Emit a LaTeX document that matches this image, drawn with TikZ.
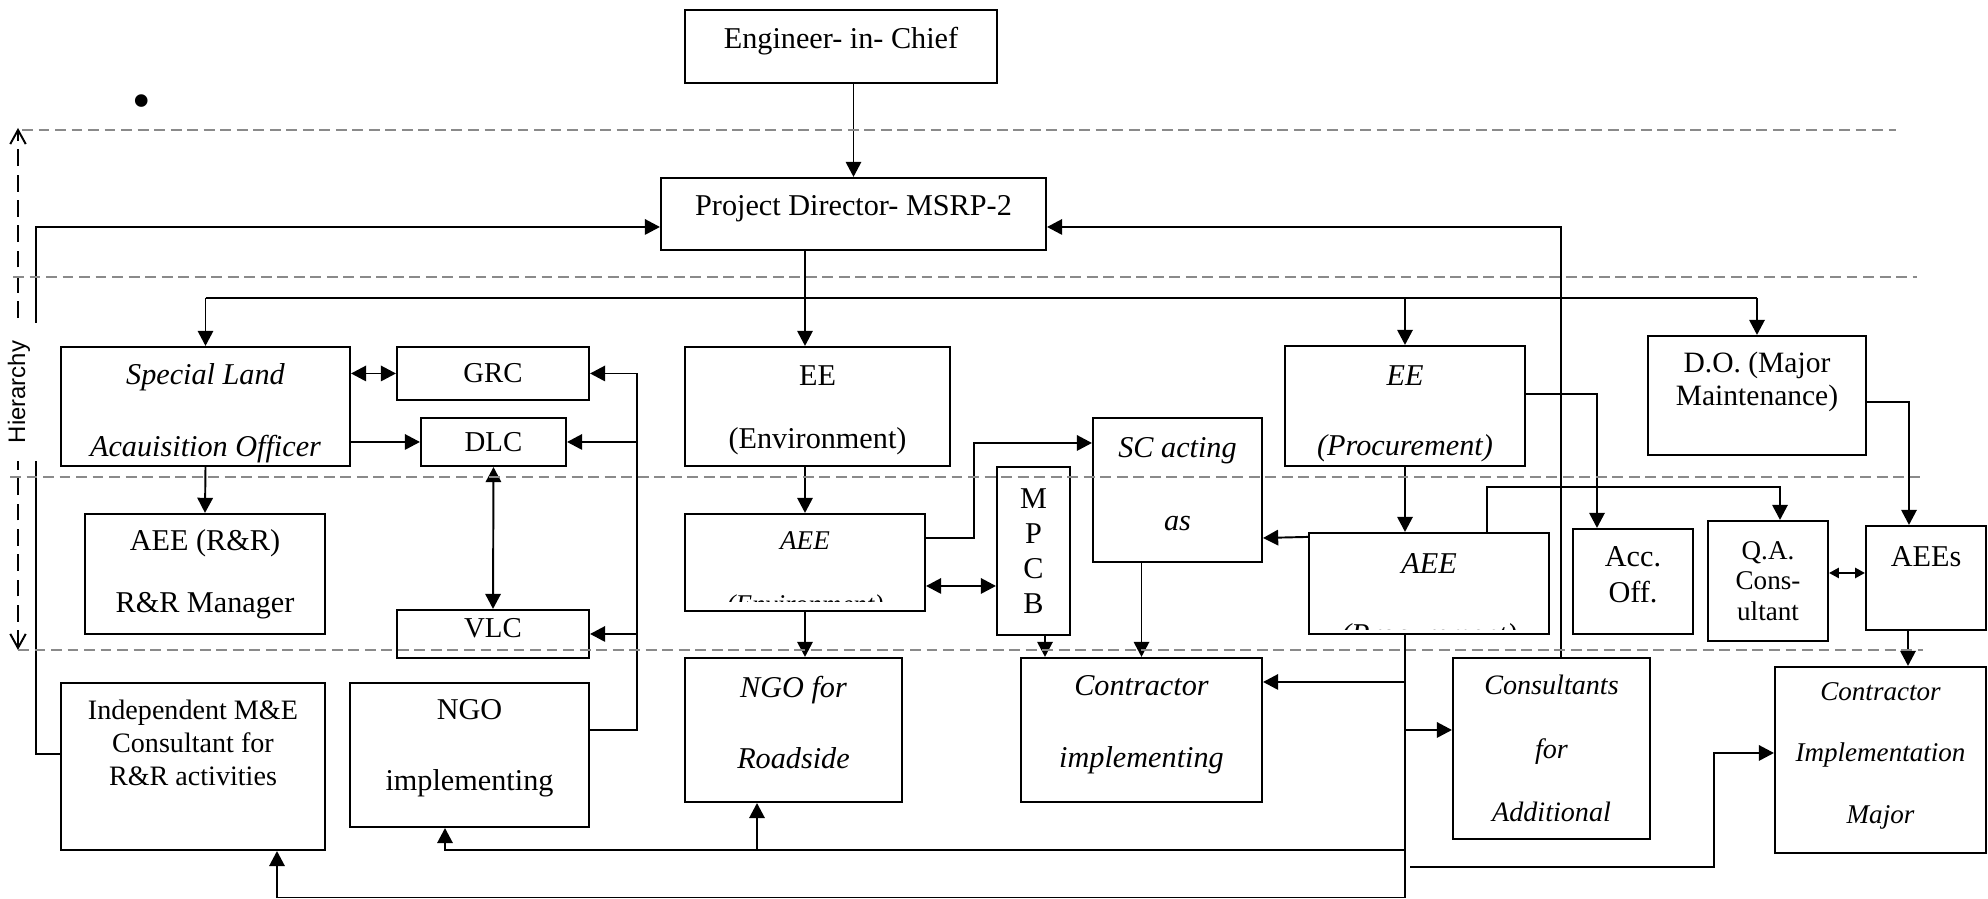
\documentclass[tikz,border=0pt]{standalone}
\usepackage{fontspec}
\setmainfont{Liberation Serif}
\newfontfamily\hierfont{Liberation Sans}
\usetikzlibrary{arrows.meta,positioning,calc}
\definecolor{LevelGray}{HTML}{8A8A8A}
\tikzset{
  box/.style={draw, line width=0.6pt, inner sep=0pt, align=center,
              font=\fontsize{8.6}{10}\selectfont},
  it/.style={font=\fontsize{8.6}{10}\selectfont\itshape},
  plain/.style={inner sep=0pt, align=center},
  arrow/.style={-{Triangle[length=4.3pt,width=4.4pt]}, line width=0.55pt},
  biarrow/.style={{Triangle[length=4.3pt,width=4.4pt]}-{Triangle[length=4.3pt,width=4.4pt]},
                  line width=0.55pt},
  smallbiarrow/.style={{Triangle[length=2.8pt,width=2.9pt]}-{Triangle[length=2.8pt,width=2.9pt]},
                  line width=0.55pt},
  level/.style={draw=LevelGray, line width=0.6pt, dash pattern=on 3.1pt off 1.6pt},
}

\begin{document}
\begin{tikzpicture}
  \tikzset{
    hier/.style={{Straight Barb[length=4pt,width=4.4pt]}-{Straight Barb[length=4pt,width=4.4pt]},
                 line width=0.55pt, dash pattern=on 4.8pt off 2.4pt},
    hierlabel/.style={fill=white, rotate=90, inner xsep=0.18cm, inner ysep=0.1cm,
                      font=\hierfont\fontsize{6.8}{8}\selectfont},
  }
  \useasboundingbox (0,0) rectangle (19.88,8.99);

  \node[plain, font=\fontsize{15}{15}\selectfont] (dot) at (1.42,7.92) {\textbullet};

  % top of the hierarchy
  \node[box, text depth=0.167cm, minimum width=3.12cm, minimum height=0.73cm] (eic) at (8.41,8.525)
        {Engineer- in- Chief};
  \node[box, text depth=0.167cm, minimum width=3.85cm, minimum height=0.72cm] (pd) at (8.535,6.85)
        {Project Director- MSRP-2};

  % second row
  \node[box, it, text height=1.06cm, minimum width=2.89cm, minimum height=1.19cm] (slao) at (2.055,4.925)
        {Special Land\\[10.5pt]Acauisition Officer};
  \node[box, font=\fontsize{8.2}{10}\selectfont, minimum width=1.92cm, minimum height=0.53cm]
        (grc) at (4.93,5.255) {GRC};
  \node[box, font=\fontsize{8.2}{10}\selectfont, minimum width=1.45cm, minimum height=0.48cm]
        (dlc) at (4.935,4.57) {DLC};
  \node[box, text height=0.91cm, minimum width=2.65cm, minimum height=1.19cm] (eeenv) at (8.175,4.925)
        {EE\\[7.9pt](Environment)};
  \node[box, it, text depth=0.12cm, minimum width=1.69cm, minimum height=1.44cm] (sc) at (11.775,4.09)
        {SC acting\\[10.5pt]as};
  \node[box, it, text height=1.06cm, minimum width=2.40cm, minimum height=1.20cm] (eeproc) at (14.05,4.93)
        {EE\\[9.9pt](Procurement)};
  \node[box, font=\fontsize{8.4}{9.4}\selectfont, text depth=0.335cm,
        minimum width=2.18cm, minimum height=1.19cm] (do) at (17.57,5.035)
        {D.O. (Major\\Maintenance)};

  % third row
  \node[box, minimum width=2.40cm, minimum height=1.20cm] (aeerr) at (2.05,3.25)
        {AEE (R\&R)\\[7.6pt]R\&R Manager};
  \node[box, font=\fontsize{8.2}{10}\selectfont, text depth=0.12cm, minimum width=1.92cm,
        minimum height=0.48cm] (vlc) at (4.93,2.65) {VLC};
  \node[box, minimum width=2.40cm, minimum height=0.97cm] (aeeenv) at (8.05,3.365) {};
  \begin{scope}
    \clip (aeeenv.north west) rectangle ($(aeeenv.south east)+(0,0.11)$);
    \node[plain, font=\fontsize{7.7}{10}\selectfont\itshape] (aeeenvtxt)
          at ($(aeeenv.center)+(0,-0.125)$) {AEE\\[8.2pt](Environment)};
  \end{scope}
  \node[box, minimum width=0.73cm, minimum height=1.68cm] (mpcb) at (10.335,3.48) {M\\P\\C\\B};
  \node[box, minimum width=2.40cm, minimum height=1.01cm] (aeeproc) at (14.29,3.155) {};
  \begin{scope}
    \clip (aeeproc.north west) rectangle ($(aeeproc.south east)+(0,0.06)$);
    \node[plain, it] (aeeproctxt) at ($(aeeproc.center)+(0,-0.185)$) {AEE\\[10.2pt](Procurement)};
  \end{scope}
  \node[box, text depth=0.14cm, minimum width=1.20cm, minimum height=1.05cm] (acc) at (16.33,3.175)
        {Acc.\\Off.};
  \node[box, font=\fontsize{7.7}{8.7}\selectfont, minimum width=1.20cm, minimum height=1.20cm]
        (qa) at (17.68,3.18) {Q.A.\\Cons-\\ultant};
  \node[box, text depth=0.42cm, minimum width=1.20cm, minimum height=1.04cm] (aees) at (19.26,3.21) {AEEs};

  % bottom row
  \node[box, font=\fontsize{8}{9.4}\selectfont, text depth=0.47cm,
        minimum width=2.64cm, minimum height=1.67cm] (me) at (1.93,1.325)
        {Independent M\&E\\Consultant for\\R\&R activities};
  \node[box, text depth=0.19cm, minimum width=2.39cm, minimum height=1.44cm] (ngoimpl) at (4.695,1.44)
        {NGO\\[10.2pt]implementing};
  \node[box, it, text depth=0.16cm, minimum width=2.17cm, minimum height=1.44cm] (ngoroad) at (7.935,1.69)
        {NGO for\\[10.2pt]Roadside};
  \node[box, it, text depth=0.167cm, minimum width=2.41cm, minimum height=1.44cm] (contr) at (11.415,1.69)
        {Contractor\\[10.5pt]implementing};
  \node[box, font=\fontsize{8}{10}\selectfont\itshape, minimum width=1.97cm, minimum height=1.81cm]
        (cons) at (15.515,1.505) {Consultants\\[8.1pt]for\\[8.1pt]Additional};
  \node[box, font=\fontsize{7.7}{10}\selectfont\itshape, text depth=0.14cm, minimum width=2.11cm,
        minimum height=1.86cm] (contrimpl) at (18.805,1.39) {Contractor\\[7.4pt]Implementation\\[7.4pt]Major};

  % rails
  \coordinate (bus) at (0,6.01);
  \coordinate (rbus) at (6.37,0);
  \coordinate (rail) at (0,0.49);
  \coordinate (floor) at (0,0.015);
  \coordinate (impltail) at (14.10,0.32);
  \coordinate (implbend) at (17.14,1.46);

  % from the top
  \draw[arrow] (eic.south -| pd.north) -- (pd.north);
  \draw[line width=0.55pt] (pd.south -| aeeenv.north) -- (aeeenv.north |- bus);
  \draw[line width=0.55pt] (slao.north |- bus) -- (do.north |- bus);
  \draw[arrow] (slao.north |- bus) -- (slao.north);
  \draw[arrow] (aeeenv.north |- bus) -- (aeeenv.north |- eeenv.north);
  \draw[arrow] (eeproc.north |- bus) -- (eeproc.north);
  \draw[arrow] (do.north |- bus) -- (do.north);

  % reporting back to the PD
  \draw[arrow] ($(me.west)+(0,0.125)$) -- ++(-0.24,0) |- ($(pd.west)+(0,-0.13)$);
  \draw[arrow] ($(cons.north)+(0.095,0)$) |- ($(pd.east)+(0,-0.13)$);

  % land acquisition side
  \draw[biarrow] (grc.west -| slao.east) -- (grc.west);
  \draw[arrow] (dlc.west -| slao.east) -- (dlc.west);
  \draw[biarrow] (dlc.south) -- (vlc.north);
  \draw[arrow] (slao.south) -- (aeerr.north);
  \draw[line width=0.55pt] ($(ngoimpl.east)+(0,0.25)$) -| (grc.east -| rbus);
  \draw[arrow] (grc.east -| rbus) -- (grc.east);
  \draw[arrow] (dlc.east -| rbus) -- (dlc.east);
  \draw[arrow] (vlc.east -| rbus) -- (vlc.east);

  % environment side
  \draw[arrow] (eeenv.south -| aeeenv.north) -- (aeeenv.north);
  \draw[arrow] (aeeenv.south) -- (aeeenv.south |- ngoroad.north);
  \draw[arrow] ($(aeeenv.east)+(0,0.245)$) -- ++(0.48,0) |- ($(sc.west)+(0,0.47)$);
  \draw[biarrow] ($(aeeenv.east)+(0,-0.235)$) -- ($(mpcb.west)+(0,-0.35)$);
  \draw[arrow] ($(mpcb.south)+(0.115,0)$) -- ($(mpcb.south |- contr.north)+(0.115,0)$);
  \draw[arrow] (sc.south -| contr.north) -- (contr.north);

  % procurement side
  \draw[arrow] (eeproc.south) -- (eeproc.south |- aeeproc.north);
  \draw[arrow] ($(aeeproc.north west)+(0,-0.05)$) -- ($(sc.east)+(0,-0.48)$);
  \draw[arrow] ($(eeproc.east)+(0,0.12)$) -| ($(acc.north)+(-0.36,0)$);
  \draw[arrow] ($(aeeproc.north)+(0.58,0)$) -- ++(0,0.45) -| ($(qa.north)+(0.12,0)$);
  \draw[arrow] ($(do.east)+(0,-0.065)$) -| ($(aees.north)+(-0.17,0)$);
  \draw[smallbiarrow] ($(qa.east)+(0,0.08)$) -- ($(aees.west)+(0,0.05)$);
  \draw[arrow] ($(aees.south)+(-0.18,0)$) -- ($(aees.south |- contrimpl.north)+(-0.18,0)$);

  % lines under the procurement AEE
  \draw[arrow] (aeeproc.south -| eeproc.south) -- (eeproc.south |- floor) -| ($(me.south)+(0.84,0)$);
  \draw[arrow] (eeproc.south |- rail) -| ($(ngoimpl.south)+(-0.245,0)$);
  \draw[arrow] ($(ngoroad.south |- rail)+(-0.365,0)$) -- ($(ngoroad.south)+(-0.365,0)$);
  \draw[arrow] ($(contr.east -| eeproc.south)+(0,0.48)$) -- ($(contr.east)+(0,0.48)$);
  \draw[arrow] ($(cons.west -| eeproc.south)+(0,0.185)$) -- ($(cons.west)+(0,0.185)$);
  \draw[arrow] (impltail) -| (implbend) -- (implbend -| contrimpl.west);

  % hierarchy marker
  \coordinate (htop) at (0.18,7.71);
  \coordinate (hbot) at (0.18,2.49);
  \draw[hier] (hbot) -- (htop);
  \node[hierlabel] (hlabel) at (0.19,5.07) {Hierarchy};

  % level lines
  \draw[level] (0.22,7.69) -- (18.96,7.69);
  \draw[level] (0.13,6.22) -- (19.17,6.22);
  \draw[level] (0.10,4.22) -- (19.20,4.22);
  \draw[level] (0.18,2.49) -- (19.23,2.49);
\end{tikzpicture}
\end{document}
